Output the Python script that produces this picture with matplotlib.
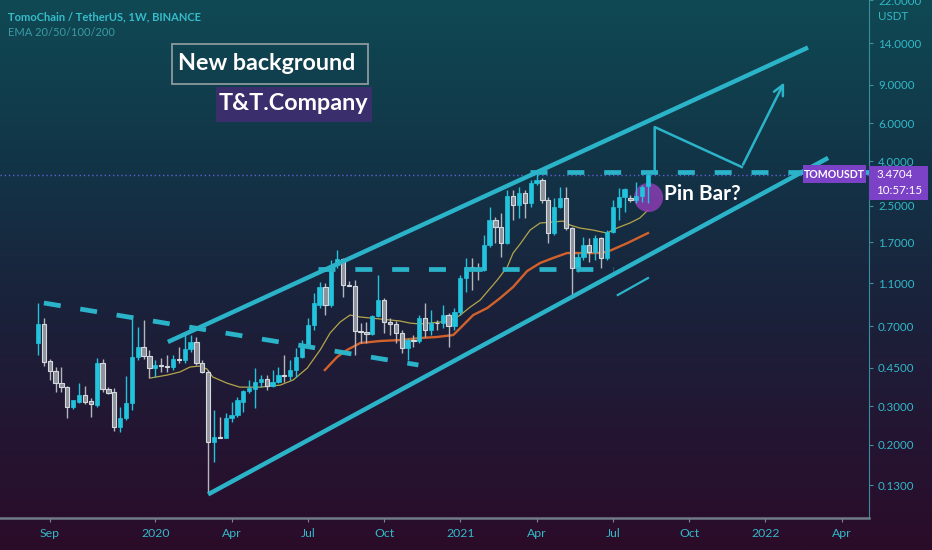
import numpy as np
import pandas as pd
import matplotlib
matplotlib.use('Agg')
import matplotlib.pyplot as plt
import matplotlib.dates as mdates
from matplotlib.colors import LinearSegmentedColormap
from matplotlib.patches import Rectangle
from matplotlib.ticker import FixedLocator, NullLocator, FuncFormatter

# weekly TOMO/USDT candles, first bar on this monday
first_week = '2019-08-19'
opens = [0.585, 0.716, 0.484, 0.435, 0.383, 0.367, 0.297, 0.3135, 0.338, 0.317,
         0.304, 0.474, 0.360, 0.350, 0.241, 0.265, 0.310, 0.505, 0.561, 0.510,
         0.449, 0.464, 0.459, 0.454, 0.494, 0.490, 0.549, 0.592, 0.474, 0.431,
         0.205, 0.2165, 0.215, 0.265, 0.273, 0.3135, 0.352, 0.360, 0.387, 0.400,
         0.371, 0.387, 0.417, 0.412, 0.440, 0.505, 0.573, 0.708, 0.875, 1.059,
         0.875, 1.336, 1.424, 1.081, 1.075, 0.665, 0.660, 0.644, 0.779, 0.923,
         0.731, 0.716, 0.651, 0.555, 0.604, 0.598, 0.763, 0.672, 0.723, 0.720,
         0.787, 0.701, 0.813, 1.164, 1.308, 1.295, 1.267, 1.651, 2.151, 1.997,
         1.686, 2.773, 2.521, 2.862, 2.575, 3.182, 3.285, 2.658, 1.874, 2.468,
         2.715, 1.976, 1.295, 1.454, 1.651, 1.533, 1.778, 1.439, 1.895, 2.468,
         2.744, 2.720, 2.660, 2.773, 3.083]
highs = [0.894, 0.763, 0.494, 0.454, 0.454, 0.371, 0.3135, 0.383, 0.371, 0.327,
         0.4995, 0.494, 0.367, 0.364, 0.297, 0.413, 0.787, 0.693, 0.747, 0.544,
         0.489, 0.4995, 0.516, 0.516, 0.561, 0.637, 0.637, 0.624, 0.489, 0.440,
         0.288, 0.2675, 0.279, 0.3135, 0.331, 0.356, 0.396, 0.449, 0.417, 0.417,
         0.440, 0.454, 0.516, 0.489, 0.555, 0.604, 0.763, 0.9935, 1.116, 1.104,
         1.409, 1.566, 1.439, 1.128, 1.140, 0.723, 0.731, 0.787, 1.202, 0.942,
         0.763, 0.739, 0.672, 0.617, 0.637, 0.787, 0.894, 0.830, 0.747, 0.875,
         0.804, 0.848, 1.202, 1.439, 1.439, 1.365, 1.835, 2.468, 2.220, 2.316,
         2.955, 2.955, 3.050, 2.955, 3.285, 3.576, 3.356, 2.744, 2.715, 3.050,
         3.050, 1.997, 1.517, 1.797, 1.778, 1.835, 1.797, 1.935, 2.658, 3.018,
         3.018, 2.800, 3.216, 3.116, 3.580]
lows = [0.516, 0.459, 0.396, 0.349, 0.349, 0.265, 0.291, 0.310, 0.307, 0.2675,
        0.297, 0.349, 0.341, 0.2307, 0.228, 0.259, 0.288, 0.489, 0.494, 0.404,
        0.4085, 0.431, 0.431, 0.440, 0.474, 0.474, 0.532, 0.464, 0.426, 0.1197,
        0.166, 0.214, 0.214, 0.2538, 0.2675, 0.282, 0.345, 0.294, 0.367, 0.356,
        0.367, 0.383, 0.387, 0.396, 0.4085, 0.4995, 0.561, 0.672, 0.848, 0.787,
        0.857, 1.295, 0.952, 1.070, 0.516, 0.585, 0.585, 0.637, 0.771, 0.651,
        0.637, 0.585, 0.527, 0.489, 0.561, 0.585, 0.624, 0.637, 0.672, 0.686,
        0.561, 0.672, 0.787, 1.004, 1.026, 1.140, 1.250, 1.617, 1.686, 1.454,
        1.669, 2.151, 2.197, 2.197, 2.468, 3.116, 2.575, 1.686, 1.835, 2.442,
        1.935, 0.952, 1.2405, 1.409, 1.380, 1.409, 1.295, 1.409, 1.874, 2.151,
        2.341, 2.602, 2.575, 2.602, 2.575]
closes = [0.716, 0.479, 0.435, 0.383, 0.367, 0.297, 0.320, 0.338, 0.3135, 0.307,
          0.474, 0.360, 0.345, 0.241, 0.265, 0.310, 0.505, 0.561, 0.510, 0.449,
          0.464, 0.459, 0.454, 0.494, 0.490, 0.549, 0.592, 0.474, 0.431, 0.205,
          0.2165, 0.215, 0.265, 0.273, 0.320, 0.352, 0.364, 0.387, 0.400, 0.371,
          0.387, 0.417, 0.412, 0.440, 0.505, 0.573, 0.708, 0.894, 1.059, 0.875,
          1.336, 1.424, 1.081, 1.075, 0.665, 0.660, 0.644, 0.779, 0.923, 0.731,
          0.716, 0.651, 0.555, 0.604, 0.598, 0.763, 0.672, 0.723, 0.720, 0.787,
          0.701, 0.813, 1.164, 1.308, 1.295, 1.267, 1.651, 2.151, 1.997, 1.686,
          2.773, 2.521, 2.862, 2.575, 3.182, 3.285, 2.658, 1.874, 2.468, 2.715,
          1.976, 1.295, 1.454, 1.651, 1.533, 1.778, 1.439, 1.895, 2.468, 2.744,
          2.986, 2.660, 2.773, 3.050, 3.4704]

# EMA lines (weeks after first bar, price)
ema20_weeks = [19.1, 22.0, 24.2, 25.9, 27.6, 28.8, 29.8, 32.2, 34.4, 37.9, 41.3, 43.5,
               45.9, 48.1, 49.8, 51.5, 53.2, 54.9, 56.6, 58.3, 60.0, 61.7, 63.4, 65.1,
               66.8, 68.5, 70.2, 72.0, 73.7, 75.4, 78.3, 80.0, 81.0, 82.2, 83.9, 85.6,
               87.8, 89.5, 90.7, 92.4, 94.6, 97.0, 98.7, 100.9, 102.6, 104.0]
ema20_values = [0.404, 0.417, 0.431, 0.454, 0.459, 0.4445, 0.4085, 0.383, 0.367, 0.367, 0.375, 0.396,
                0.449, 0.544, 0.651, 0.731, 0.787, 0.771, 0.763, 0.755, 0.747, 0.739, 0.723, 0.716,
                0.723, 0.731, 0.739, 0.787, 0.857, 0.923, 1.14, 1.308, 1.517, 1.669, 1.935, 2.084,
                2.106, 2.128, 2.04, 1.976, 1.935, 1.874, 1.976, 2.084, 2.197, 2.391]
ema50_weeks = [48.9, 51.0, 52.7, 54.9, 58.3, 61.7, 65.1, 68.0, 70.8, 72.0, 74.2, 76.6,
               78.8, 81.0, 83.4, 85.6, 87.8, 90.2, 92.4, 95.3, 97.0, 100.5, 104.0]
ema50_values = [0.440, 0.505, 0.544, 0.585, 0.598, 0.604, 0.617, 0.624, 0.637, 0.686, 0.787, 0.848,
                0.942, 1.059, 1.254, 1.365, 1.439, 1.517, 1.517, 1.517, 1.533, 1.686, 1.874]

last_price = 3.4704
price_ticks = [0.13, 0.2, 0.3, 0.45, 0.7, 1.1, 1.7, 2.5, 4, 6, 9, 14, 22]
date_ticks = ['2019-09-02', '2020-01-06', '2020-04-06', '2020-07-06', '2020-10-05', '2021-01-04',
              '2021-04-05', '2021-07-05', '2021-10-04', '2022-01-03', '2022-04-04']
date_labels = ['Sep', '2020', 'Apr', 'Jul', 'Oct', '2021', 'Apr', 'Jul', 'Oct', '2022', 'Apr']

# hand drawn lines (date, price)
upper_channel = [('2020-01-21', 0.592), ('2022-02-23', 13.35)]
lower_channel = [('2020-03-09', 0.118), ('2022-03-19', 4.15)]
old_resistance = [('2019-08-26', 0.894), ('2020-11-15', 0.464)]
mid_level = [('2020-07-18', 1.28), ('2021-07-05', 1.28)]
top_level = [('2021-03-28', 3.576), ('2022-05-10', 3.576)]
projection = [('2021-08-24', 3.576), ('2021-08-24', 5.755), ('2021-12-06', 3.769), ('2022-01-27', 9.465)]
support_mark = [('2021-07-11', 0.973), ('2021-08-16', 1.164)]
pin_circle = ('2021-08-16', 2.744)

UP = '#22c3dc'
DOWN = '#8e929a'
DOWN_EDGE = '#d6d9dd'
LINE = '#2bb4c9'
TXT = '#33b8c8'
PURPLE = '#7b42c8'
FONT = ['Lato', 'DejaVu Sans']
W, H = 932, 550


def pts(line):
    d = mdates.date2num(pd.to_datetime([p[0] for p in line]))
    return d, [p[1] for p in line]


fig = plt.figure(figsize=(W / 100, H / 100), dpi=100)

# background gradient
bg = fig.add_axes([0, 0, 1, 1], zorder=-5)
cmap = LinearSegmentedColormap.from_list('bg', [(0, '#0f4953'), (0.3, '#123447'), (0.55, '#1a223b'),
                                                (0.8, '#241532'), (1, '#2b0c29')])
bg.imshow(np.linspace(0, 1, 256).reshape(-1, 1), aspect='auto', cmap=cmap, extent=[0, 1, 0, 1])
bg.axis('off')

ax = fig.add_axes([0, 32 / H, 869 / W, 518 / H])
ax.set_facecolor('none')
ax.set_yscale('log')

x0 = mdates.date2num(pd.Timestamp(first_week))
o, h, l, c = map(np.array, (opens, highs, lows, closes))
x = x0 + 7 * np.arange(len(o))
up = c >= o
dn = ~up

# candles
ax.vlines(x[up], l[up], h[up], color=UP, lw=1, zorder=3)
ax.vlines(x[dn], l[dn], h[dn], color='#b3b7bd', lw=1, zorder=3)
ax.bar(x[up], c[up] - o[up], bottom=o[up], width=5.1, color=UP, edgecolor=UP, lw=0.5, zorder=4)
ax.bar(x[dn], o[dn] - c[dn], bottom=c[dn], width=5.1, color=DOWN, edgecolor=DOWN_EDGE, lw=0.8, zorder=4)

# EMAs
ax.plot(x0 + 7 * np.array(ema20_weeks), ema20_values, color='#b3a54a', lw=0.9, zorder=2)
ax.plot(x0 + 7 * np.array(ema50_weeks), ema50_values, color='#d2612b', lw=1.7, zorder=2)

# drawings
for line in (upper_channel, lower_channel):
    ax.plot(*pts(line), color=LINE, lw=3.2, solid_capstyle='butt', zorder=5)
for line in (old_resistance, mid_level, top_level):
    ax.plot(*pts(line), color=LINE, lw=3.4, ls=(0, (3.6, 4.2)), zorder=5)
px, py = pts(projection)
ax.plot(px[:3], py[:3], color=LINE, lw=1.8, zorder=5)
ax.annotate('', xy=(px[3], py[3]), xytext=(px[2], py[2]),
            arrowprops=dict(arrowstyle='->', color=LINE, lw=1.8, mutation_scale=18), zorder=5)
ax.plot(*pts(support_mark), color=LINE, lw=1.6, zorder=5)
ax.scatter(mdates.date2num(pd.Timestamp(pin_circle[0])), pin_circle[1], s=440,
           color='#8a3db2', alpha=0.85, lw=0, zorder=2)
ax.axhline(last_price, color='#5d62d2', lw=1, ls=(0, (1, 2)), zorder=1)

# axes
ax.set_ylim(0.0919, 22.07)
ax.set_xlim(x0 - 45.4, x0 + 991.8)
ax.yaxis.tick_right()
ax.yaxis.set_major_locator(FixedLocator(price_ticks))
ax.yaxis.set_minor_locator(NullLocator())
ax.yaxis.set_major_formatter(FuncFormatter(lambda v, p: f'{v:.4f}'))
ax.tick_params(axis='y', labelcolor=TXT, labelsize=8.3, length=3, width=0.8, pad=3.5, color='#3f8f9e')
ax.xaxis.set_major_locator(FixedLocator(mdates.date2num(pd.to_datetime(date_ticks))))
ax.set_xticklabels(date_labels)
ax.tick_params(axis='x', labelcolor=TXT, labelsize=8.8, length=3, width=0.8, pad=4, color='#7c8794')
for lbl in ax.get_xticklabels() + ax.get_yticklabels():
    lbl.set_family(FONT)
for s in ('left', 'top'):
    ax.spines[s].set_visible(False)
ax.spines['right'].set_color('#3a8d9c')
ax.spines['right'].set_linewidth(0.8)
ax.spines['bottom'].set_color('#6f7b89')
ax.spines['bottom'].set_linewidth(1.8)

fig.text(893 / W, 1 - 16 / H, 'USDT', ha='center', va='center', color=TXT, fontsize=8.3, family=FONT)

# header texts
fig.text(8 / W, 1 - 17 / H, 'TomoChain / TetherUS, 1W, BINANCE', color='#36bccb',
         fontsize=8, fontweight='bold', va='center', family=FONT)
fig.text(8 / W, 1 - 33 / H, 'EMA 20/50/100/200', color='#3a9ba6',
         fontsize=8, va='center', family=FONT)

fig.add_artist(Rectangle((172 / W, 1 - 84 / H), 196 / W, 40 / H, transform=fig.transFigure,
                         fill=False, edgecolor='#8c999f', lw=1.3))
fig.text(178 / W, 1 - 64 / H, 'New background', color='white', fontsize=16.8, fontweight='bold',
         va='center', family=FONT)
fig.add_artist(Rectangle((216 / W, 1 - 122 / H), 156 / W, 35 / H, transform=fig.transFigure,
                         color='#3a2f6c', lw=0))
fig.text(219 / W, 1 - 104 / H, 'T&T.Company', color='white', fontsize=16.8, fontweight='bold',
         va='center', family=FONT)
fig.text(664 / W, 1 - 194 / H, 'Pin Bar?', color='white', fontsize=15, fontweight='bold',
         va='center', family=FONT)

# last price labels
fig.add_artist(Rectangle((803 / W, 1 - 183 / H), 63 / W, 18 / H, transform=fig.transFigure,
                         color=PURPLE, lw=0, zorder=6))
fig.text(834.5 / W, 1 - 174 / H, 'TOMOUSDT', color='white', fontsize=7.6, fontweight='bold',
         ha='center', va='center', zorder=7, family=FONT)
fig.add_artist(Rectangle((869 / W, 1 - 200 / H), 59 / W, 34 / H, transform=fig.transFigure,
                         color=PURPLE, lw=0, zorder=6))
fig.text(876 / W, 1 - 175 / H, f'{last_price:.4f}', color='white', fontsize=8.3,
         va='center', zorder=7, family=FONT)
fig.text(876 / W, 1 - 191 / H, '10:57:15', color='white', fontsize=8.3, va='center', zorder=7,
         family=FONT)

fig.savefig('out.png', dpi=100)
